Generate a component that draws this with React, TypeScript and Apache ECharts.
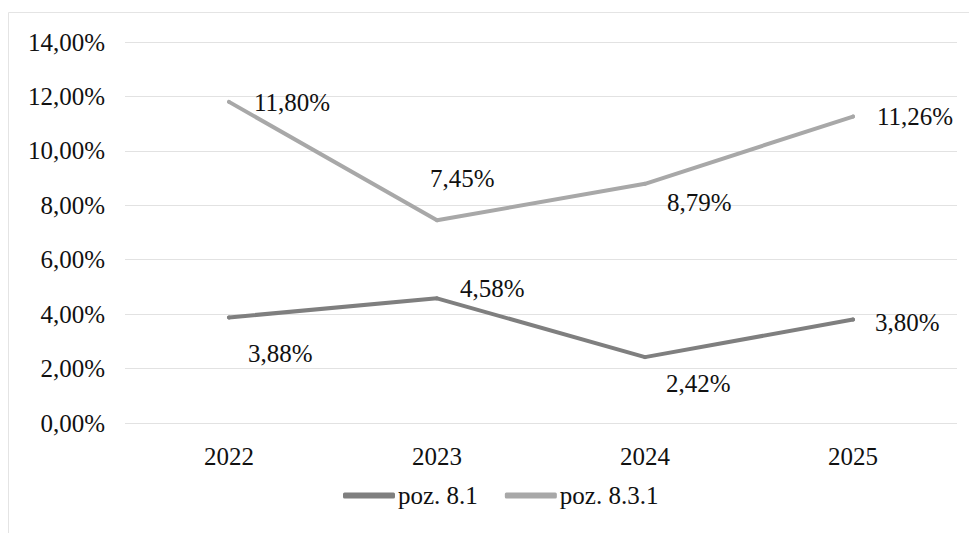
import React, { useEffect, useRef } from "react";
import * as echarts from "echarts";

const categories = ["2022", "2023", "2024", "2025"];
const seriesNames = ["poz. 8.1", "poz. 8.3.1"];
const values81 = [3.88, 4.58, 2.42, 3.8];
const values831 = [11.8, 7.45, 8.79, 11.26];
// label offsets (left edge relative to point, vertical center relative to point)
const offsets81 = [[19, 36], [23, -10], [21, 26], [22, 3]];
const offsets831 = [[25, 1], [-7, -42], [22, 19], [24, 0]];

const FONT = "Liberation Serif";
const fmt = (v: number) => v.toFixed(2).replace(".", ",") + "%";

function build(values: number[], offs: number[][]) {
  return values.map((v, i) => ({
    value: v,
    label: { offset: offs[i] },
  }));
}

export default function App() {
  const ref = useRef<HTMLDivElement>(null);
  useEffect(() => {
    const chart = echarts.init(ref.current!, undefined, { renderer: "svg" });
    const labelBase = {
      show: true,
      position: "inside",
      align: "left",
      verticalAlign: "middle",
      fontFamily: FONT,
      fontSize: 25,
      color: "#111",
      formatter: (p: any) => fmt(p.value),
    };
    chart.setOption({
      animation: false,
      backgroundColor: "#fff",
      textStyle: { fontFamily: FONT },
      graphic: [
        {
          type: "rect",
          shape: { x: 8.5, y: 12.5, width: 980, height: 540 },
          style: { fill: "none", stroke: "#e4e4e4", lineWidth: 1 },
          silent: true,
        },
      ],
      grid: { left: 125, right: 12, top: 42, bottom: 110, containLabel: false },
      xAxis: {
        type: "category",
        data: categories,
        boundaryGap: true,
        axisLine: { show: false },
        axisTick: { show: false },
        axisLabel: { fontFamily: FONT, fontSize: 25, color: "#111", margin: 21 },
      },
      yAxis: {
        type: "value",
        min: 0,
        max: 14,
        interval: 2,
        axisLine: { show: false },
        axisTick: { show: false },
        splitLine: { lineStyle: { color: "#e2e2e2", width: 1 } },
        axisLabel: {
          fontFamily: FONT,
          fontSize: 25,
          color: "#111",
          margin: 20,
          formatter: (v: number) => fmt(v),
        },
      },
      legend: {
        bottom: 20,
        left: 338,
        itemWidth: 52,
        itemHeight: 6,
        itemGap: 27,
        icon: "roundRect",
        textStyle: { fontFamily: FONT, fontSize: 25, color: "#111", padding: [0, 0, 0, -2] },
        data: seriesNames,
      },
      series: [
        {
          name: seriesNames[0],
          type: "line",
          data: build(values81, offsets81),
          color: "#7f7f7f",
          lineStyle: { width: 4, color: "#7f7f7f", cap: "round" },
          symbol: "circle",
          symbolSize: 4,
          itemStyle: { color: "#7f7f7f" },
          label: labelBase,
        },
        {
          name: seriesNames[1],
          type: "line",
          data: build(values831, offsets831),
          color: "#a8a8a8",
          lineStyle: { width: 4, color: "#a8a8a8", cap: "round" },
          symbol: "circle",
          symbolSize: 4,
          itemStyle: { color: "#a8a8a8" },
          label: labelBase,
        },
      ],
    });
    return () => chart.dispose();
  }, []);
  return (
    <div
      ref={ref}
      style={{ position: "fixed", left: 0, top: 0, width: 969, height: 533 }}
    />
  );
}
